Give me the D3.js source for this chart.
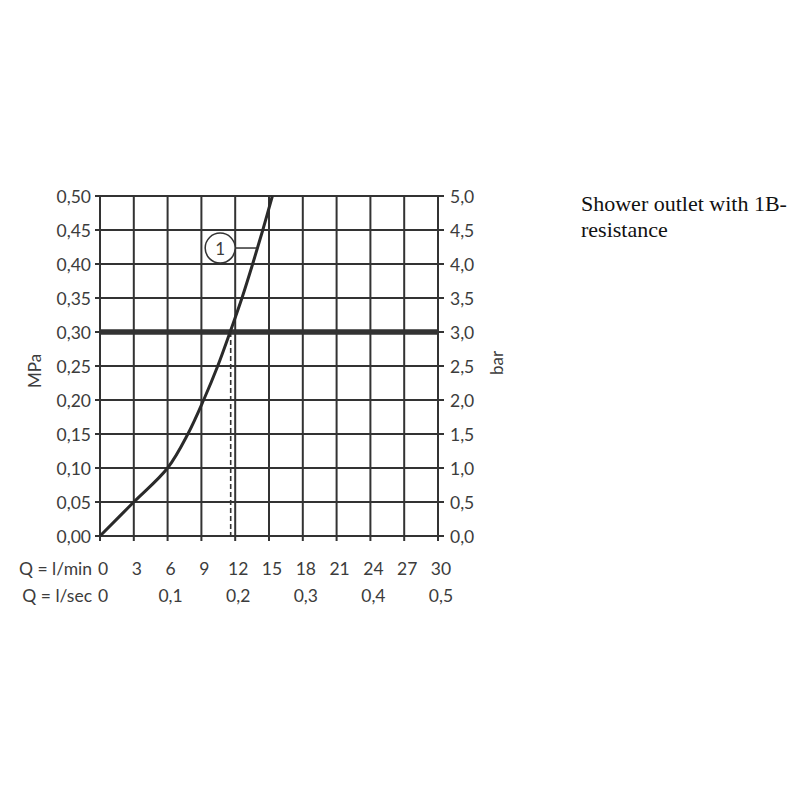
<!DOCTYPE html>
<html><head><meta charset="utf-8">
<script src="https://cdn.jsdelivr.net/npm/d3@7"></script>
<style>body{margin:0;background:#fff}svg{display:block}</style>
</head><body>
<script>
const qMinTicks = [0,3,6,9,12,15,18,21,24,27,30];
const qSecTicks = [0,0.1,0.2,0.3,0.4,0.5];
const mpaTicks = [0,0.05,0.10,0.15,0.20,0.25,0.30,0.35,0.40,0.45,0.50];
const curveQ = [0,3,6,7.8,9.2,10.45,11.55,12.6,13.55,14.45,15.3];
const curveP = [0,0.05,0.10,0.15,0.20,0.25,0.30,0.35,0.40,0.45,0.50];
const refPressure = 0.30;
const refFlow = 11.6;
const labelText = "1";
const labelAt = [13.95, 0.4235];
const title = ["Shower outlet with 1B-","resistance"];

const W=800,H=800;
const svg=d3.select("body").append("svg").attr("width",W).attr("height",H);
const L=100,R=438,T=196,B=536;
const x=d3.scaleLinear().domain([0,30]).range([L,R]);
const xs=d3.scaleLinear().domain([0,0.5]).range([L,R]);
const y=d3.scaleLinear().domain([0,0.5]).range([B,T]);
const yb=d3.scaleLinear().domain([0,5]).range([B,T]);
const ink="#333", txt="#3c3c3c";
const font="Lato, 'Noto Sans', sans-serif";
const fmt=(v,d)=>v.toFixed(d).replace(".",",");

// grid
svg.append("g").selectAll("line").data(qMinTicks).join("line")
 .attr("x1",d=>x(d)).attr("x2",d=>x(d)).attr("y1",T).attr("y2",B+5)
 .attr("stroke",ink).attr("stroke-width",2);
svg.append("g").selectAll("line").data(mpaTicks).join("line")
 .attr("x1",L-5).attr("x2",R+6).attr("y1",d=>y(d)).attr("y2",d=>y(d))
 .attr("stroke",ink).attr("stroke-width",2);

// left labels
svg.append("g").selectAll("text").data(mpaTicks).join("text")
 .attr("x",L-9).attr("y",d=>y(d)).attr("text-anchor","end").attr("dominant-baseline","central")
 .attr("font-family",font).attr("font-size",17.5).attr("fill",txt).text(d=>fmt(d,2));
// right labels
svg.append("g").selectAll("text").data(mpaTicks).join("text")
 .attr("x",R+12).attr("y",d=>yb(d*10)).attr("text-anchor","start").attr("dominant-baseline","central")
 .attr("font-family",font).attr("font-size",17.5).attr("fill",txt).text(d=>fmt(d*10,1));

// axis titles
svg.append("text").attr("transform",`translate(34,371) rotate(-90)`).attr("text-anchor","middle")
 .attr("dominant-baseline","central").attr("font-family",font).attr("font-size",17).attr("fill",txt).text("MPa");
svg.append("text").attr("transform",`translate(496,363) rotate(-90)`).attr("text-anchor","middle")
 .attr("dominant-baseline","central").attr("font-family",font).attr("font-size",17).attr("fill",txt).text("bar");

// bottom labels
svg.append("text").attr("x",92).attr("y",568).attr("text-anchor","end").attr("dominant-baseline","central")
 .attr("font-family",font).attr("font-size",17.5).attr("fill",txt).text("Q = l/min");
svg.append("g").selectAll("text").data(qMinTicks).join("text")
 .attr("x",d=>x(d)+3).attr("y",568).attr("text-anchor","middle").attr("dominant-baseline","central")
 .attr("font-family",font).attr("font-size",17.5).attr("fill",txt).text(d=>d);
svg.append("text").attr("x",92).attr("y",595).attr("text-anchor","end").attr("dominant-baseline","central")
 .attr("font-family",font).attr("font-size",17.5).attr("fill",txt).text("Q = l/sec");
svg.append("g").selectAll("text").data(qSecTicks).join("text")
 .attr("x",d=>xs(d)+3).attr("y",595).attr("text-anchor","middle").attr("dominant-baseline","central")
 .attr("font-family",font).attr("font-size",17.5).attr("fill",txt).text(d=>d===0?"0":fmt(d,1));

// reference heavy line
svg.append("line").attr("x1",L).attr("x2",R).attr("y1",y(refPressure)).attr("y2",y(refPressure))
 .attr("stroke",ink).attr("stroke-width",5.5);
// dashed
svg.append("line").attr("x1",x(refFlow)).attr("x2",x(refFlow)).attr("y1",y(refPressure)).attr("y2",B)
 .attr("stroke",ink).attr("stroke-width",1.6).attr("stroke-dasharray","5,3");

// curve
const pts=curveQ.map((q,i)=>[q,curveP[i]]);
svg.append("path").datum(pts)
 .attr("d",d3.line().x(d=>x(d[0])).y(d=>y(d[1])).curve(d3.curveCatmullRom))
 .attr("fill","none").attr("stroke","#2a2a2a").attr("stroke-width",3);

// label
const ax=x(labelAt[0]), ay=y(labelAt[1]);
const cx=ax-37, cy=ay;
svg.append("line").attr("x1",cx+15).attr("x2",ax).attr("y1",cy).attr("y2",cy)
 .attr("stroke",ink).attr("stroke-width",1.5);
svg.append("circle").attr("cx",cx).attr("cy",cy).attr("r",15).attr("fill","#fff")
 .attr("stroke",ink).attr("stroke-width",1.5);
svg.append("text").attr("x",cx).attr("y",cy).attr("text-anchor","middle").attr("dominant-baseline","central")
 .attr("font-family",font).attr("font-size",17).attr("fill",txt).text(labelText);

// title
svg.append("g").selectAll("text").data(title).join("text")
 .attr("x",581).attr("y",(d,i)=>211+i*26).attr("font-family","'Liberation Serif', serif")
 .attr("font-size",22).attr("fill","#111").text(d=>d);
</script>
</body></html>
